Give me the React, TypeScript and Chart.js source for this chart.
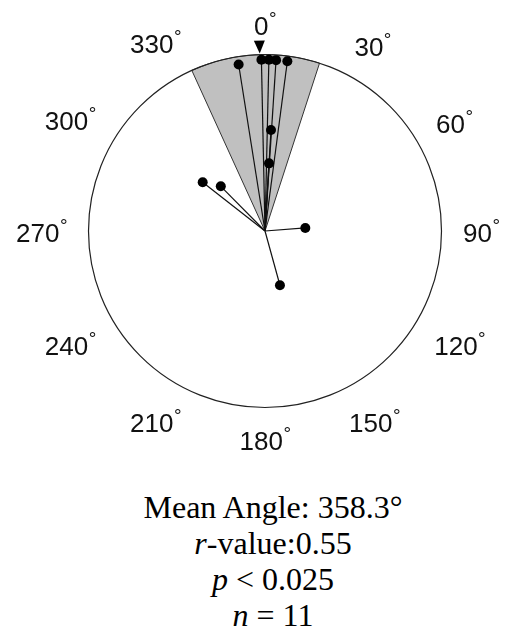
import React, { useEffect, useRef } from "react";
import { Chart, registerables } from "chart.js";

Chart.register(...registerables);

// Compass angles (degrees, clockwise from north) and vector lengths (0..1)
const angles = [351.0, 358.8, 1.3, 3.7, 7.5, 3.4, 3.4, 308.0, 315.3, 85.7, 164.6];
const lengths = [0.955, 0.97, 0.97, 0.97, 0.97, 0.573, 0.384, 0.448, 0.356, 0.229, 0.319];

// Axis tick angles and labels
const axisAngles = [0, 30, 60, 90, 120, 150, 180, 210, 240, 270, 300, 330];
const tickLabels = axisAngles.map((a) => String(a));

// Summary statistics
const meanAngle = 358.3;
const ciLow = 335.5;
const ciHigh = 18.0;
const rValue = "0.55";
const pText = "< 0.025";
const nCount = 11;

const rad = (d: number) => (d * Math.PI) / 180;

const polarFrame = {
  id: "polarFrame",
  beforeDatasetsDraw(chart: any) {
    const { ctx, scales } = chart;
    const cx = scales.x.getPixelForValue(0);
    const cy = scales.y.getPixelForValue(0);
    const R = scales.x.getPixelForValue(1) - cx;
    ctx.save();
    // confidence wedge
    const start = rad(ciLow - 90);
    const span = rad((ciHigh - ciLow + 360) % 360);
    ctx.beginPath();
    ctx.moveTo(cx, cy);
    ctx.arc(cx, cy, R, start, start + span, false);
    ctx.closePath();
    ctx.fillStyle = "#c0c0c0";
    ctx.fill();
    ctx.lineWidth = 1;
    ctx.strokeStyle = "#333";
    ctx.stroke();
    // outer circle
    ctx.beginPath();
    ctx.arc(cx, cy, R, 0, Math.PI * 2);
    ctx.lineWidth = 1.2;
    ctx.strokeStyle = "#222";
    ctx.stroke();
    ctx.restore();
  },
  afterDatasetsDraw(chart: any) {
    const { ctx, scales } = chart;
    const cx = scales.x.getPixelForValue(0);
    const cy = scales.y.getPixelForValue(0);
    const R = scales.x.getPixelForValue(1) - cx;
    ctx.save();
    // mean-angle marker
    const th = rad(meanAngle);
    const tipR = R + 1;
    ctx.translate(cx + tipR * Math.sin(th), cy - tipR * Math.cos(th));
    ctx.rotate(th);
    ctx.beginPath();
    ctx.moveTo(0, 0);
    ctx.lineTo(-5.5, -13);
    ctx.lineTo(5.5, -13);
    ctx.closePath();
    ctx.fillStyle = "#000";
    ctx.fill();
    ctx.restore();

    // angle labels
    ctx.save();
    const numFont = '26px "Liberation Sans", Arial, Helvetica, sans-serif';
    const degFont = '19px "Liberation Sans", Arial, Helvetica, sans-serif';
    const R0 = R * (198 / 176.5);
    const hh = 9.5;
    axisAngles.forEach((a, i) => {
      const t = tickLabels[i];
      ctx.font = numFont;
      const w1 = ctx.measureText(t).width;
      ctx.font = degFont;
      const w2 = ctx.measureText("\u00b0").width;
      const w = w1 + w2;
      const hw = w / 2;
      const s = Math.sin(rad(a));
      const c = Math.cos(rad(a));
      const d = R0 + Math.abs(hw * s) + Math.abs(hh * c);
      const bx = cx + d * s;
      const by = cy - d * c + 2;
      ctx.fillStyle = "#111";
      ctx.textAlign = "left";
      ctx.textBaseline = "alphabetic";
      ctx.font = numFont;
      ctx.fillText(t, bx - hw, by + 9.3);
      ctx.font = degFont;
      ctx.fillText("\u00b0", bx - hw + w1 + 0.5, by - 0.8);
    });
    ctx.restore();
  },
};

export default function App() {
  const ref = useRef<HTMLCanvasElement | null>(null);

  useEffect(() => {
    if (!ref.current) return;
    const pts = angles.map((a, i) => ({
      x: lengths[i] * Math.sin(rad(a)),
      y: lengths[i] * Math.cos(rad(a)),
    }));
    const spokes = pts.map((p) => ({
      data: [{ x: 0, y: 0 }, p],
      showLine: true,
      borderColor: "#111",
      borderWidth: 1.2,
      pointRadius: 0,
      clip: false as any,
    }));
    const chart = new Chart(ref.current, {
      type: "scatter",
      data: {
        datasets: [
          {
            data: pts,
            pointRadius: 5,
            pointBackgroundColor: "#000",
            pointBorderWidth: 0,
            borderWidth: 0,
            clip: false as any,
          },
          ...spokes,
        ] as any,
      },
      options: {
        animation: false,
        responsive: false,
        events: [],
        layout: { padding: { left: 88.5, right: 64.5, top: 54.5, bottom: 62.5 } },
        scales: {
          x: { type: "linear", min: -1, max: 1, display: false },
          y: { type: "linear", min: -1, max: 1, display: false },
        },
        plugins: { legend: { display: false }, tooltip: { enabled: false } },
      },
      plugins: [polarFrame],
    });
    return () => chart.destroy();
  }, []);

  const textStyle: React.CSSProperties = {
    position: "absolute",
    left: 20,
    top: 489,
    width: 506,
    textAlign: "center",
    fontFamily: '"Liberation Serif", "Times New Roman", Times, serif',
    fontSize: 32,
    lineHeight: "36px",
    color: "#000",
  };

  return (
    <div style={{ position: "absolute", left: 0, top: 0, width: 506, height: 634, background: "#fff" }}>
      <canvas ref={ref} width={506} height={470} style={{ position: "absolute", left: 0, top: 0 }} />
      <div style={textStyle}>
        <div>Mean Angle: 358.3°</div>
        <div>
          <i>r</i>-value:{rValue}
        </div>
        <div>
          <i>p</i> {pText}
        </div>
        <div>
          <i>n</i> = {nCount}
        </div>
      </div>
    </div>
  );
}
